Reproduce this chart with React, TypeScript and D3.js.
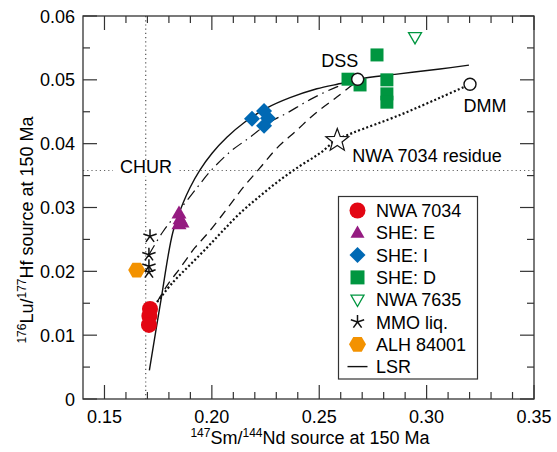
import { useEffect, useRef } from 'react';
import * as d3 from 'd3';

// axis ticks
const xTickValues = [0.15, 0.2, 0.25, 0.3, 0.35];
const xTickLabels = ['0.15', '0.20', '0.25', '0.30', '0.35'];
const yTickValues = [0, 0.01, 0.02, 0.03, 0.04, 0.05, 0.06];
const yTickLabels = ['0', '0.01', '0.02', '0.03', '0.04', '0.05', '0.06'];

// reference lines
const churSmNd = 0.1692;
const churLuHf = 0.0358;

// samples: [147Sm/144Nd, 176Lu/177Hf]
const nwa7034 = [[0.1712, 0.0141], [0.1709, 0.013], [0.1707, 0.0116]];
const sheE = [[0.1847, 0.0291], [0.1852, 0.0282], [0.1847, 0.0274], [0.1861, 0.0277]];
const sheI = [[0.2187, 0.0439], [0.2243, 0.0451], [0.2261, 0.044], [0.2243, 0.0428]];
const sheD = [[0.2769, 0.0539], [0.2634, 0.0501], [0.269, 0.0492], [0.2815, 0.05], [0.2815, 0.0478], [0.2815, 0.0465]];
const nwa7635 = [[0.2946, 0.0567]];
const mmoLiq = [[0.1712, 0.0255], [0.1707, 0.0226], [0.1707, 0.0208], [0.1707, 0.0199]];
const alh84001 = [[0.165, 0.0202]];

// reservoirs
const dss = [0.2679, 0.0501];
const dmm = [0.3202, 0.0493];
const residue = [0.2584, 0.0405];

// mixing / LSR curves
const lsrCurve = [[0.1709, 0.0045], [0.1763, 0.0155], [0.1819, 0.0262], [0.1866, 0.0307], [0.1898, 0.0331], [0.1945, 0.0359], [0.2001, 0.0385], [0.207, 0.041], [0.2154, 0.0434], [0.2257, 0.0456], [0.2364, 0.0472], [0.2489, 0.0486], [0.261, 0.0495], [0.268, 0.0501], [0.2862, 0.0509], [0.3062, 0.0517], [0.3197, 0.0523]];
const dashDotCurve = [[0.1707, 0.0226], [0.1772, 0.0262], [0.1838, 0.0291], [0.1931, 0.0331], [0.1991, 0.0356], [0.2084, 0.0387], [0.2177, 0.041], [0.2271, 0.0434], [0.235, 0.0448], [0.2457, 0.0469], [0.2582, 0.0489], [0.2676, 0.05]];
const dashedCurve = [[0.1745, 0.0152], [0.1796, 0.018], [0.1852, 0.0205], [0.1921, 0.0237], [0.1982, 0.026], [0.2066, 0.0296], [0.2145, 0.0331], [0.2224, 0.0362], [0.2303, 0.0393], [0.2392, 0.042], [0.248, 0.0447], [0.2582, 0.0473], [0.2676, 0.0498]];
const dottedCurve = [[0.1745, 0.0152], [0.1819, 0.0183], [0.1898, 0.021], [0.1977, 0.0237], [0.2047, 0.0262], [0.2131, 0.0291], [0.2224, 0.0318], [0.2317, 0.0343], [0.241, 0.0365], [0.2503, 0.0385], [0.2582, 0.0406], [0.2657, 0.0417], [0.2876, 0.0445], [0.3062, 0.0472], [0.3202, 0.0493]];

const legendLabels = ['NWA 7034', 'SHE: E', 'SHE: I', 'SHE: D', 'NWA 7635', 'MMO liq.', 'ALH 84001', 'LSR'];

const RED = '#e30613';
const PURPLE = '#951b81';
const BLUE = '#0069b4';
const GREEN = '#009640';
const ORANGE = '#f39200';
const FONT = 'Liberation Sans, Arial, Helvetica, sans-serif';

function polygon(pts: number[][]) {
  return 'M' + pts.map(p => p.join(',')).join('L') + 'Z';
}
function triUp(s: number) {
  const h = s * 0.87;
  return polygon([[0, -h * 0.6], [s / 2, h * 0.4], [-s / 2, h * 0.4]]);
}
function triDown(s: number) {
  const h = s * 0.87;
  return polygon([[0, h * 0.6], [s / 2, -h * 0.4], [-s / 2, -h * 0.4]]);
}
function diamond(r: number) {
  return polygon([[0, -r], [r, 0], [0, r], [-r, 0]]);
}
function hexagon(r: number) {
  return polygon(d3.range(6).map(i => [r * Math.cos(i * Math.PI / 3), r * Math.sin(i * Math.PI / 3)]));
}
function starOutline(R: number, r: number) {
  return polygon(d3.range(10).map(i => {
    const a = -Math.PI / 2 + i * Math.PI / 5;
    const rr = i % 2 === 0 ? R : r;
    return [rr * Math.cos(a), rr * Math.sin(a)];
  }));
}
function asterisk(r: number) {
  return d3.range(5).map(i => {
    const a = -Math.PI / 2 + i * 2 * Math.PI / 5;
    return `M0,0L${r * Math.cos(a)},${r * Math.sin(a)}`;
  }).join('');
}

export default function App() {
  const ref = useRef<SVGSVGElement>(null);

  useEffect(() => {
    if (!ref.current) return;
    const svg = d3.select(ref.current);
    svg.selectAll('*').remove();

    const left = 83, right = 534, top = 16, bottom = 399;
    const x = d3.scaleLinear().domain([0.14, 0.35]).range([left, right]);
    const y = d3.scaleLinear().domain([0, 0.06]).range([bottom, top]);

    const g = svg.append('g');

    // CHUR reference lines
    g.append('line')
      .attr('x1', left).attr('x2', right)
      .attr('y1', y(churLuHf)).attr('y2', y(churLuHf))
      .attr('stroke', '#666').attr('stroke-width', 1.2).attr('stroke-dasharray', '1.2,3');
    g.append('line')
      .attr('x1', x(churSmNd)).attr('x2', x(churSmNd))
      .attr('y1', top).attr('y2', bottom)
      .attr('stroke', '#555').attr('stroke-width', 1.2).attr('stroke-dasharray', '1.2,3');

    // CHUR label with white box
    g.append('rect').attr('x', 113).attr('y', y(churLuHf) - 10).attr('width', 66).attr('height', 16).attr('fill', '#fff');
    g.append('text').attr('x', 120).attr('y', y(churLuHf) + 3)
      .attr('font-family', FONT).attr('font-size', 18).text('CHUR');

    // curves
    const line = d3.line<number[]>()
      .x(d => x(d[0]))
      .y(d => y(d[1]))
      .curve(d3.curveCatmullRom.alpha(0.5));

    const curveStyle = (data: number[][], dash: string | null, width: number) => {
      const p = g.append('path')
        .attr('d', line(data) as string)
        .attr('fill', 'none')
        .attr('stroke', '#111')
        .attr('stroke-width', width);
      if (dash) p.attr('stroke-dasharray', dash);
    };
    curveStyle(dottedCurve, '2,2.3', 2.2);
    curveStyle(dashedCurve, '9,6', 1.3);
    curveStyle(dashDotCurve, '11,5,1.5,5', 1.2);
    curveStyle(lsrCurve, null, 1.4);

    // markers
    const drawPath = (data: number[][], d: string, fill: string, stroke: string, sw: number) => {
      g.selectAll(null).data(data).enter().append('path')
        .attr('transform', p => `translate(${x(p[0])},${y(p[1])})`)
        .attr('d', d)
        .attr('fill', fill)
        .attr('stroke', stroke)
        .attr('stroke-width', sw);
    };

    drawPath(nwa7034, d3.symbol(d3.symbolCircle, Math.PI * 64)() as string, RED, 'none', 0);
    drawPath(sheE, triUp(15), PURPLE, 'none', 0);
    drawPath(sheI, diamond(8), BLUE, 'none', 0);
    drawPath(sheD, d3.symbol(d3.symbolSquare, 13 * 13)() as string, GREEN, 'none', 0);
    drawPath(nwa7635, triDown(13), '#fff', GREEN, 1.3);
    drawPath(mmoLiq, asterisk(7), 'none', '#111', 1.5);
    drawPath(alh84001, hexagon(8.5), ORANGE, 'none', 0);

    // reservoirs
    drawPath([residue], starOutline(12, 5), '#fff', '#111', 1.2);
    drawPath([dss, dmm], d3.symbol(d3.symbolCircle, Math.PI * 36)() as string, '#fff', '#111', 1.4);

    g.append('text').attr('x', x(dss[0]) - 18).attr('y', y(dss[1]) - 12)
      .attr('text-anchor', 'middle').attr('font-family', FONT).attr('font-size', 18).text('DSS');
    g.append('text').attr('x', x(dmm[0]) + 15).attr('y', y(dmm[1]) + 28)
      .attr('text-anchor', 'middle').attr('font-family', FONT).attr('font-size', 18).text('DMM');
    g.append('text').attr('x', x(residue[0]) + 15).attr('y', y(residue[1]) + 22)
      .attr('font-family', FONT).attr('font-size', 18).text('NWA 7034 residue');

    // frame
    g.append('rect')
      .attr('x', left).attr('y', top)
      .attr('width', right - left).attr('height', bottom - top)
      .attr('fill', 'none').attr('stroke', '#333').attr('stroke-width', 1.3);

    // ticks (inward, all four sides)
    const xMinor = d3.range(0.15, 0.3451, 0.01).filter(v => !xTickValues.some(t => Math.abs(t - v) < 1e-6));
    const yMinor = d3.range(0.005, 0.06, 0.01);
    const tick = (x1: number, y1: number, x2: number, y2: number) =>
      g.append('line').attr('x1', x1).attr('y1', y1).attr('x2', x2).attr('y2', y2)
        .attr('stroke', '#333').attr('stroke-width', 1.2);
    const MAJ = 14, MIN = 7;
    xTickValues.forEach(v => { tick(x(v), bottom, x(v), bottom - MAJ); tick(x(v), top, x(v), top + MAJ); });
    xMinor.forEach(v => { tick(x(v), bottom, x(v), bottom - MIN); tick(x(v), top, x(v), top + MIN); });
    yTickValues.forEach(v => { tick(left, y(v), left + MAJ, y(v)); tick(right, y(v), right - MAJ, y(v)); });
    yMinor.forEach(v => { tick(left, y(v), left + MIN, y(v)); tick(right, y(v), right - MIN, y(v)); });

    // tick labels
    g.selectAll(null).data(xTickValues).enter().append('text')
      .attr('x', d => x(d)).attr('y', bottom + 24)
      .attr('text-anchor', 'middle').attr('font-family', FONT).attr('font-size', 18)
      .text((d, i) => xTickLabels[i]);
    g.selectAll(null).data(yTickValues).enter().append('text')
      .attr('x', left - 8).attr('y', d => y(d) + 6.5)
      .attr('text-anchor', 'end').attr('font-family', FONT).attr('font-size', 18)
      .text((d, i) => yTickLabels[i]);

    // axis titles
    const xt = g.append('text').attr('x', 310).attr('y', 444)
      .attr('text-anchor', 'middle').attr('font-family', FONT).attr('font-size', 18);
    xt.append('tspan').attr('font-size', 12).attr('dy', -7).text('147');
    xt.append('tspan').attr('dy', 7).text('Sm/');
    xt.append('tspan').attr('font-size', 12).attr('dy', -7).text('144');
    xt.append('tspan').attr('dy', 7).text('Nd source at 150 Ma');

    const yt = g.append('text').attr('transform', 'translate(33,230) rotate(-90)')
      .attr('text-anchor', 'middle').attr('font-family', FONT).attr('font-size', 18);
    yt.append('tspan').attr('font-size', 12).attr('dy', -7).text('176');
    yt.append('tspan').attr('dy', 7).text('Lu/');
    yt.append('tspan').attr('font-size', 12).attr('dy', -7).text('177');
    yt.append('tspan').attr('dy', 7).text('Hf source at 150 Ma');

    // legend
    const lg = g.append('g');
    lg.append('rect').attr('x', 338.5).attr('y', 196.5).attr('width', 139).attr('height', 182.5)
      .attr('fill', '#fff').attr('stroke', '#333').attr('stroke-width', 1.2);
    const symX = 357.5, textX = 376, rowY0 = 210.5, rowH = 22.3;
    const legendSymbols = [
      { d: d3.symbol(d3.symbolCircle, Math.PI * 64)() as string, fill: RED, stroke: 'none', sw: 0 },
      { d: triUp(14), fill: PURPLE, stroke: 'none', sw: 0 },
      { d: diamond(8), fill: BLUE, stroke: 'none', sw: 0 },
      { d: d3.symbol(d3.symbolSquare, 14 * 14)() as string, fill: GREEN, stroke: 'none', sw: 0 },
      { d: triDown(13), fill: '#fff', stroke: GREEN, sw: 1.3 },
      { d: asterisk(7), fill: 'none', stroke: '#111', sw: 1.5 },
      { d: hexagon(8.5), fill: ORANGE, stroke: 'none', sw: 0 },
      { d: 'M-10,0L10,0', fill: 'none', stroke: '#111', sw: 1.4 },
    ];
    legendLabels.forEach((lab, i) => {
      const cy = rowY0 + i * rowH;
      const s = legendSymbols[i];
      lg.append('path').attr('transform', `translate(${symX},${cy})`)
        .attr('d', s.d).attr('fill', s.fill).attr('stroke', s.stroke).attr('stroke-width', s.sw);
      lg.append('text').attr('x', textX).attr('y', cy + 6.5)
        .attr('font-family', FONT).attr('font-size', 18).text(lab);
    });
  }, []);

  return (
    <div style={{ position: 'absolute', left: 0, top: 0 }}>
      <svg ref={ref} width={557} height={452} />
    </div>
  );
}
